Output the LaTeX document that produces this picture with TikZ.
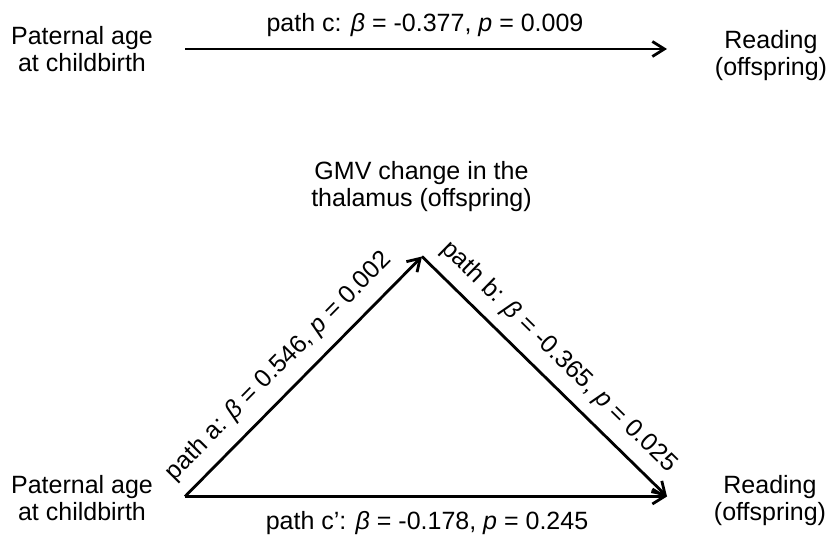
\documentclass[tikz,border=0pt]{standalone}
\usepackage{fontspec}
\setmainfont{Liberation Sans}
\usetikzlibrary{arrows.meta}
\begin{document}
\begin{tikzpicture}[x=0.5pt,y=-0.5pt,
  lbl/.style={font=\fontsize{12.5}{13.5}\selectfont, align=center, inner sep=0pt},
  plab/.style={font=\fontsize{12.5}{13.5}\selectfont, inner sep=0pt},
  conn/.style={line width=1.4pt, -{Straight Barb[length=6pt,width=7.5pt]}}]
\useasboundingbox (0,0) rectangle (830,544);
% top model
\node[lbl] (tpa) at (82,49.4) {Paternal age\\at childbirth};
\node[lbl] (trd) at (771,56) {Reading\\(offspring)};
\coordinate (ts) at (185,49);
\coordinate (te) at (667,49);
\draw[conn] (ts) -- (te);
\node[plab, anchor=base] (pc) at (425,32) {path c: \textit{β} = -0.377, \textit{p} = 0.009};
% bottom model
\node[lbl] (bpa) at (82,498.4) {Paternal age\\at childbirth};
\node[lbl] (brd) at (770,501) {Reading\\(offspring)};
\node[lbl] (gmv) at (421.5,187) {GMV change in the\\thalamus (offspring)};
\coordinate (L) at (185,496.5);
\coordinate (A) at (422,256.5);
\coordinate (R) at (667,496.5);
\draw[conn] (L) -- node[plab, sloped, pos=0.47, above=5.8pt] (pa) {path a: \textit{β} = 0.546, \textit{p} = 0.002} (A);
\draw[conn] (A) -- node[plab, sloped, pos=0.49, above=5.5pt] (pb) {path b: \textit{β} = -0.365, \textit{p} = 0.025} (R);
\draw[conn] (L) -- (R);
\node[plab, anchor=base] (pcp) at (427,530) {path c’: \textit{β} = -0.178, \textit{p} = 0.245};
\end{tikzpicture}
\end{document}
